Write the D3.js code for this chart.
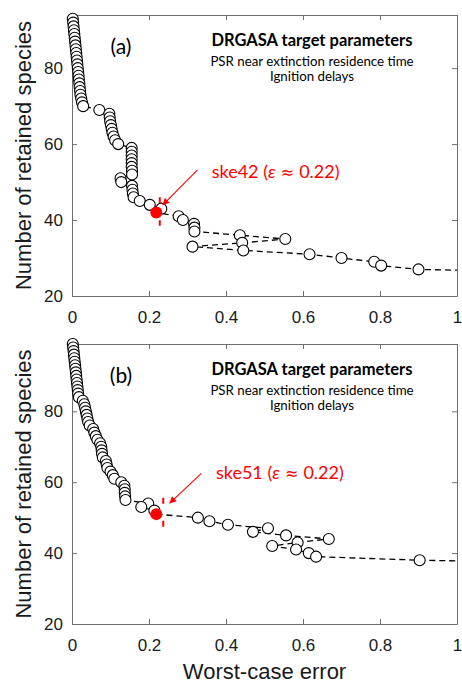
<!DOCTYPE html>
<html>
<head>
<meta charset="utf-8">
<script src="https://cdn.jsdelivr.net/npm/d3@7"></script>
<style>
  body { margin: 0; background: #fff; }
</style>
</head>
<body>
<script>
// (a) reduction path: species count vs worst-case error
var specA = [93,92,91,90,89,88,87,86,85,84,83,82,81,80,79,78,77,76,75,74,73,72,71,70,
             69,68,67,66,65,64,63,62,61,60,59,58,57,56,55,54,53,52,51,50,49,48,47,46,45,44,43,42,
             41,40,39,38,37,36,35,34,33,32,31,30,29,28,27,26];
var errA  = [0.002,0.003,0.004,0.005,0.006,0.007,0.008,0.009,0.010,0.011,0.012,0.013,0.014,0.015,0.016,0.017,0.018,0.019,0.020,0.021,0.022,0.024,0.026,0.029,
             0.071,0.097,0.098,0.099,0.101,0.103,0.105,0.108,0.112,0.120,0.155,0.155,0.155,0.155,0.155,0.155,0.156,0.156,0.126,0.128,0.156,0.157,0.158,0.160,0.176,0.202,0.232,0.219,
             0.277,0.288,0.317,0.318,0.318,0.436,0.554,0.442,0.313,0.445,0.617,0.700,0.785,0.803,0.900,1.40];

// (b) reduction path
var specB = [99,98,97,96,95,94,93,92,91,90,89,88,87,86,85,84,83,82,81,80,79,78,77,76,75,74,73,72,71,70,
             69,68,67,66,65,64,63,62,61,60,59,58,57,56,55,54,53,52,51,
             50,49,48,47,46,45,44,43,42,41,40,39,38,37];
var errB  = [0.002,0.003,0.004,0.005,0.006,0.007,0.008,0.009,0.010,0.011,0.012,0.013,0.014,0.015,0.016,0.018,0.028,0.032,0.034,0.036,0.038,0.040,0.042,0.046,0.055,0.058,0.062,0.066,0.073,0.076,
             0.077,0.078,0.080,0.088,0.090,0.092,0.100,0.106,0.110,0.128,0.136,0.137,0.137,0.138,0.139,0.198,0.180,0.214,0.219,
             0.327,0.357,0.405,0.509,0.470,0.556,0.667,0.586,0.520,0.582,0.615,0.634,0.903,1.40];

var xTicks = [0, 0.2, 0.4, 0.6, 0.8, 1];
var yTicks = [20, 40, 60, 80];
var panelTags = ["(a)", "(b)"];
var targetTitle = "DRGASA target parameters";
var targetLines = ["PSR near extinction residence time", "Ignition delays"];
var skeNames = ["ske42", "ske51"];
var skeSpecies = [42, 51];
var skeErr = [0.219, 0.219];
var skeEps = "0.22";

var W = 462, H = 685;
var svg = d3.select("body").append("svg").attr("width", W).attr("height", H);

var x = d3.scaleLinear().domain([0, 1]).range([72, 457]);

// layout of each panel; annotation anchors in data units
var panels = [
  { top: 15, bottom: 296, ymax: 94, spec: specA, err: errA,
    label: { x: 0.363, y: 51 }, arrow: [[0.326, 53.2], [0.236, 44]], mark: { x: 0.228, y0: 38.5, y1: 46 } },
  { top: 344, bottom: 624, ymax: 99, spec: specB, err: errB,
    label: { x: 0.374, y: 61 }, arrow: [[0.336, 62.5], [0.254, 54.1]], mark: { x: 0.237, y0: 47.1, y1: 55.6 } }
];

var tickFont = "Liberation Sans, Arial, sans-serif";
var noteFont = "Lato, 'Open Sans', sans-serif";

svg.append("defs").append("marker")
    .attr("id", "arrowhead")
    .attr("viewBox", "0 0 10 10")
    .attr("refX", 9).attr("refY", 5)
    .attr("markerWidth", 8).attr("markerHeight", 7)
    .attr("markerUnits", "userSpaceOnUse")
    .attr("orient", "auto")
  .append("path")
    .attr("d", "M0,0L10,5L0,10Z")
    .attr("fill", "#ff0000");

panels.forEach(function(p, i) {
  var y = d3.scaleLinear().domain([20, p.ymax]).range([p.bottom, p.top]);
  var g = svg.append("g");
  var pts = p.spec.map(function(s, k) { return { s: s, e: p.err[k] }; });

  g.append("clipPath").attr("id", "clip" + i)
    .append("rect")
      .attr("x", x(0)).attr("y", p.top)
      .attr("width", x(1) - x(0)).attr("height", p.bottom - p.top);

  // axes, box style with inward ticks
  var axB = g.append("g").attr("transform", "translate(0," + p.bottom + ")")
    .call(d3.axisBottom(x).tickValues(xTicks).tickFormat(d3.format("~g"))
      .tickSizeInner(-5).tickSizeOuter(0).tickPadding(15));
  var axT = g.append("g").attr("transform", "translate(0," + p.top + ")")
    .call(d3.axisTop(x).tickValues(xTicks).tickFormat("")
      .tickSizeInner(-5).tickSizeOuter(0));
  var axL = g.append("g").attr("transform", "translate(" + x(0) + ",0)")
    .call(d3.axisLeft(y).tickValues(yTicks)
      .tickSizeInner(-5).tickSizeOuter(0).tickPadding(9));
  var axR = g.append("g").attr("transform", "translate(" + x(1) + ",0)")
    .call(d3.axisRight(y).tickValues(yTicks).tickFormat("")
      .tickSizeInner(-5).tickSizeOuter(0));

  [axB, axT, axL, axR].forEach(function(a) {
    a.selectAll("path, line").attr("stroke", "#6e6e6e").attr("stroke-width", 1);
    a.selectAll("text").attr("fill", "#1a1a1a").attr("font-size", 17).attr("font-family", tickFont);
  });

  // dashed reduction path
  g.append("path")
    .datum(pts)
    .attr("clip-path", "url(#clip" + i + ")")
    .attr("fill", "none")
    .attr("stroke", "#000")
    .attr("stroke-width", 1.3)
    .attr("stroke-dasharray", "6,4")
    .attr("d", d3.line().x(function(d) { return x(d.e); }).y(function(d) { return y(d.s); }));

  g.selectAll("circle.pt")
    .data(pts.filter(function(d) { return d.e <= 1 && d.s !== skeSpecies[i]; }))
    .enter().append("circle")
    .attr("class", "pt")
    .attr("cx", function(d) { return x(d.e); })
    .attr("cy", function(d) { return y(d.s); })
    .attr("r", 5.5)
    .attr("fill", "#fff")
    .attr("stroke", "#000")
    .attr("stroke-width", 1.1);

  // selected skeletal mechanism
  g.append("line")
    .attr("x1", x(p.mark.x)).attr("x2", x(p.mark.x))
    .attr("y1", y(p.mark.y1)).attr("y2", y(p.mark.y0))
    .attr("stroke", "#ff0000").attr("stroke-width", 2)
    .attr("stroke-dasharray", "6,17");

  g.append("circle")
    .attr("cx", x(skeErr[i])).attr("cy", y(skeSpecies[i]))
    .attr("r", 6)
    .attr("fill", "#ff0000");

  g.append("line")
    .attr("x1", x(p.arrow[0][0])).attr("y1", y(p.arrow[0][1]))
    .attr("x2", x(p.arrow[1][0])).attr("y2", y(p.arrow[1][1]))
    .attr("stroke", "#ff0000").attr("stroke-width", 1.1)
    .attr("marker-end", "url(#arrowhead)");

  var lab = g.append("text")
    .attr("x", x(p.label.x)).attr("y", y(p.label.y))
    .attr("fill", "#ff0000")
    .attr("font-size", 18)
    .attr("font-family", noteFont);
  lab.append("tspan").text(skeNames[i] + " (");
  lab.append("tspan").attr("font-style", "italic").text("\u03B5");
  lab.append("tspan").attr("font-family", "DejaVu Sans").attr("font-size", 16).text(" \u2248 ");
  lab.append("tspan").text(skeEps + ")");

  // panel tag and target notes
  g.append("text")
    .attr("x", 121).attr("y", p.top + 39)
    .attr("text-anchor", "middle")
    .attr("font-size", 21)
    .attr("font-family", noteFont)
    .attr("fill", "#000")
    .text(panelTags[i]);

  g.append("text")
    .attr("x", 312).attr("y", p.top + 31)
    .attr("text-anchor", "middle")
    .attr("font-size", 16.5)
    .attr("font-weight", "bold")
    .attr("font-family", noteFont)
    .attr("fill", "#000")
    .text(targetTitle);

  g.selectAll("text.note")
    .data(targetLines)
    .enter().append("text")
    .attr("class", "note")
    .attr("x", 312)
    .attr("y", function(d, k) { return p.top + 51 + k * 14.5; })
    .attr("text-anchor", "middle")
    .attr("font-size", 13.3)
    .attr("font-family", noteFont)
    .attr("fill", "#000")
    .text(function(d) { return d; });

  g.append("text")
    .attr("transform", "translate(31," + (p.top + p.bottom) / 2 + ") rotate(-90)")
    .attr("text-anchor", "middle")
    .attr("font-size", 22)
    .attr("font-family", tickFont)
    .attr("fill", "#1a1a1a")
    .text("Number of retained species");
});

svg.append("text")
  .attr("x", (x(0) + x(1)) / 2).attr("y", 679)
  .attr("text-anchor", "middle")
  .attr("font-size", 22)
  .attr("font-family", tickFont)
  .attr("fill", "#1a1a1a")
  .text("Worst-case error");
</script>
</body>
</html>
